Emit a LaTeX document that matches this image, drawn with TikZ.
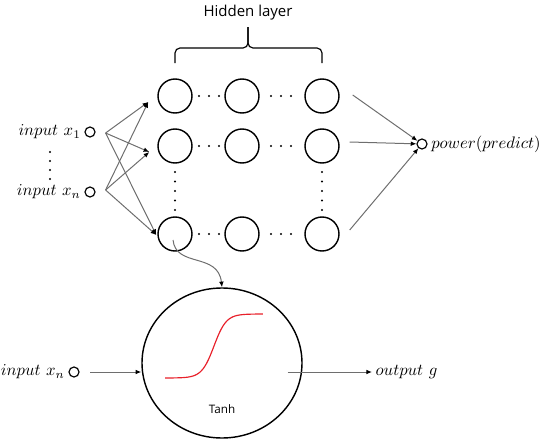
\documentclass[tikz,border=0pt]{standalone}
\usepackage{fontspec}
\newfontfamily\hlfont{Open Sans}
\usetikzlibrary{arrows.meta, positioning, shapes.geometric}
\definecolor{nnGray}{HTML}{6E6E6E}
\definecolor{nnRed}{HTML}{E8202A}

\begin{document}
\begin{tikzpicture}[
      x=0.6pt, y=-0.6pt,
      neuron/.style={draw, line width=0.85pt, circle, minimum size=20.4pt, inner sep=0pt},
      port/.style={draw, line width=0.7pt, circle, minimum size=6pt, inner sep=0pt},
      lbl/.style={inner sep=2pt, font=\normalsize},
      hltext/.style={font=\hlfont\fontsize{9}{11}\selectfont},
      arr/.style={-{Latex[length=3.4pt, width=2.8pt, color=black]}, line width=0.6pt, draw=nnGray},
      brc/.style={line width=0.7pt, rounded corners=3pt}
    ]
    \useasboundingbox (0,0) rectangle (550,443);

    % --- Hidden layer grid ---
    \foreach \r/\y in {1/96, 2/146, 3/234}
      \foreach \c/\x in {1/175, 2/242, 3/322}
        \node[neuron] (h\r\c) at (\x,\y) {};
    \foreach \y in {96, 146, 234}
      \foreach \x in {199, 209, 219, 271, 281, 291}
        \fill (\x,\y) circle (1.1);
    \foreach \y in {172, 181.5, 191, 200.5, 210} {
      \fill (175,\y) circle (1.1);
      \fill (322,\y) circle (1.1);
    }

    \draw[brc] (175,63) |- (248,48) -- (248,27);
    \draw[brc] (322,63) |- (248,48) -- (248,27);
    \node[hltext] (hl) at (248,13) {Hidden layer};

    % --- Inputs ---
    \node[port] (in1) at (90,132) {};
    \node[port] (inn) at (90,192) {};
    \node[lbl, left=0pt of in1] (l1) {$input\ x_1$};
    \node[lbl, left=0pt of inn] (ln) {$input\ x_n$};
    \foreach \y in {152, 161, 170, 179}
      \fill (50,\y) circle (1.1);

    \coordinate (s1) at ([shift={(10,1)}]in1.east);
    \coordinate (sn) at ([shift={(10,-2)}]inn.east);
    \coordinate (t1) at ([shift={(-9,6)}]h11.west);
    \coordinate (t2) at ([shift={(-8,6)}]h21.west);
    \coordinate (t3) at ([shift={(-1,1)}]h31.west);
    \foreach \t in {t1, t2, t3} {
      \draw[arr] (s1) -- (\t);
      \draw[arr] (sn) -- (\t);
    }

    % --- Output ---
    \node[port] (pw) at (422,144) {};
    \node[lbl, right=0pt of pw] (lpw) {$power(predict)$};
    \draw[arr] ([shift={(13,-1)}]h13.east) -- (pw);
    \draw[arr] ([shift={(10,-4)}]h23.east) -- (pw);
    \draw[arr] ([shift={(10,-4)}]h33.east) -- (pw);

    % --- Activation detail ---
    \node[draw, ellipse, line width=0.85pt, minimum width=96pt, minimum height=90pt, inner sep=0pt] (tanh) at (222,363) {};
    \draw[nnRed, line width=0.7pt] plot[domain=-1:1, samples=60] ({214+49*\x}, {346-32*tanh(4*\x)});
    \node[font=\hlfont\fontsize{7}{8}\selectfont] (tl) at (222,409) {Tanh};

    \draw[arr] ([shift={(-2,6)}]h31.center) .. controls (176,268) and (218,252) .. (tanh.north);

    \node[port] (inb) at (74,372) {};
    \node[lbl, left=0pt of inb] (lb) {$input\ x_n$};
    \draw[arr, shorten <=6.5pt] (inb.east) -- (inb.east -| tanh.west);

    \node[lbl, anchor=west] (og) at (372,372) {$output\ g$};
    \draw[arr] ([shift={(-15,9)}]tanh.east) -- (og);
  \end{tikzpicture}
\end{document}
